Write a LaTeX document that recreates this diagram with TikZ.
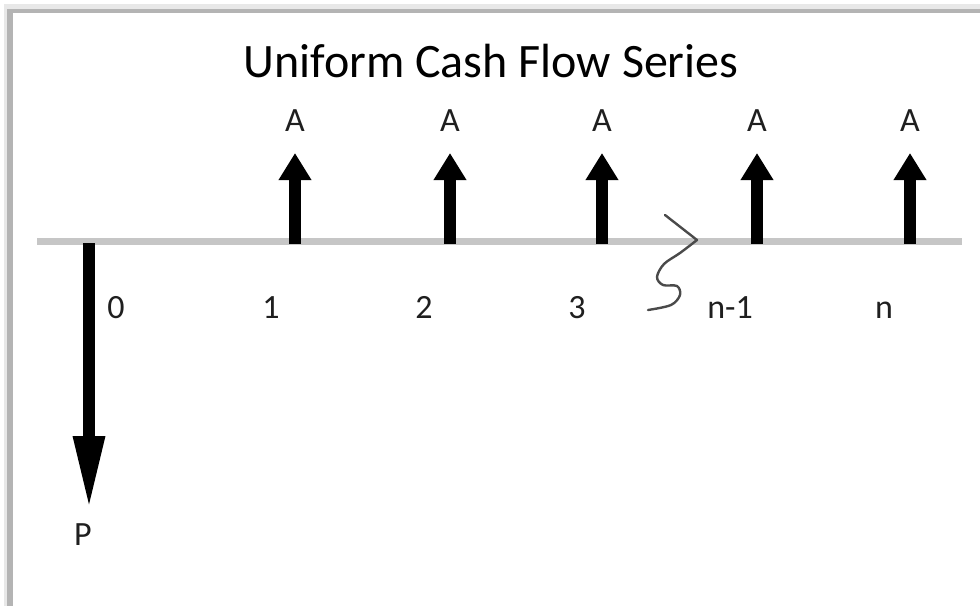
\documentclass[tikz,border=0pt]{standalone}
\usepackage{fontspec}
\setmainfont{Carlito}
\usetikzlibrary{arrows.meta}
\definecolor{axisgray}{HTML}{C6C6C6}
\definecolor{frameedge}{HTML}{B4B4B4}
\definecolor{framelight}{HTML}{E8E8E8}
\definecolor{breakgray}{HTML}{4A4A4A}
\begin{document}
\begin{tikzpicture}[x=1pt,y=-1pt,
  inflow/.style={line width=12pt, -{Triangle[width=31pt,length=27pt]}},
  outflow/.style={line width=12pt, -{Triangle[width=29pt,length=74pt]}},
  lbl/.style={font=\fontsize{34}{34}\selectfont, text=black!88, inner sep=0pt, anchor=base},
  breakmark/.style={breakgray, line width=2.4pt, line join=round, line cap=round},
]
\useasboundingbox (0,0) rectangle (980,606);
\fill[white] (0,0) rectangle (980,606);

% window frame (top and left edges)
\fill[framelight] (4,4) rectangle (980,9);
\fill[framelight] (4,4) rectangle (8,606);
\fill[frameedge] (7,9) rectangle (980,13);
\fill[frameedge] (7,9) rectangle (13,606);

% title
\node[font=\fontsize{48}{48}\selectfont, inner sep=0pt, anchor=base] (title) at (491,77) {Uniform Cash Flow Series};

% time axis
\coordinate (axL) at (37,241);
\coordinate (axR) at (962,241);
\draw[axisgray, line width=7pt] (axL) -- (axR);

% period points on the axis
\coordinate (t0) at (89,243);
\coordinate (t1) at (295,244);
\coordinate (t2) at (450,244);
\coordinate (t3) at (602,244);
\coordinate (tn1) at (757,244);
\coordinate (tn) at (910,244);

% arrow tips
\coordinate (p0) at (89,510);
\coordinate (a1) at (295,153);
\coordinate (a2) at (450,153);
\coordinate (a3) at (602,153);
\coordinate (an1) at (757,153);
\coordinate (an) at (910,153);

% present value (outflow) and uniform payments (inflows)
\draw[outflow] (t0) -- (p0);
\draw[inflow] (t1) -- (a1);
\draw[inflow] (t2) -- (a2);
\draw[inflow] (t3) -- (a3);
\draw[inflow] (tn1) -- (an1);
\draw[inflow] (tn) -- (an);

% payment labels
\node[lbl] (A1) at (295,131) {A};
\node[lbl] (A2) at (450,131) {A};
\node[lbl] (A3) at (602,131) {A};
\node[lbl] (An1) at (757,131) {A};
\node[lbl] (An) at (910,131) {A};
\node[lbl] (P) at (83,545) {P};

% period numbers
\node[lbl] (n0) at (116,318) {0};
\node[lbl] (n1) at (271,318) {1};
\node[lbl] (n2) at (424,318) {2};
\node[lbl] (n3) at (577,318) {3};
\node[lbl] (nn1) at (730,318) {n-1};
\node[lbl] (nn) at (884,318) {n};

% axis break mark
\draw[breakmark] (665,215) -- (697,240)
  -- plot[smooth, tension=0.55] coordinates {(697,240) (680,253) (664,264) (657,277) (663,285) (677,286) (680,295) (671,305) (648,310)};
\end{tikzpicture}
\end{document}
